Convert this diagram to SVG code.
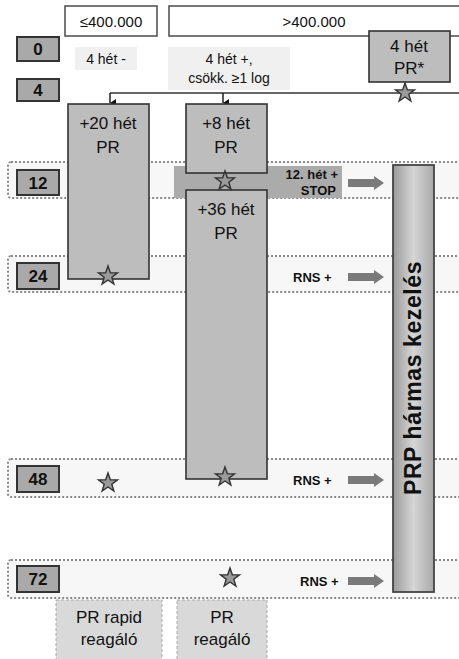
<svg xmlns="http://www.w3.org/2000/svg" width="459" height="659" viewBox="0 0 459 659">
<defs>
<style>
text{font-family:"Liberation Sans",Arial,sans-serif;fill:#111}
.band{fill:#f7f7f7;stroke:#8a8a8a;stroke-width:2;stroke-dasharray:2 2}
.num{fill:#a9a9a9;stroke:#333;stroke-width:2}
.numt{font-size:17px;font-weight:bold;text-anchor:middle}
.node{fill:#bdbdbd;stroke:#333;stroke-width:1.6}
.nt{font-size:17px;text-anchor:middle}
.top{fill:#fff;stroke:#555;stroke-width:1.6}
.lbl{fill:#f0f0f0}
.lt{font-size:14px;text-anchor:middle}
.rns{font-size:13px;font-weight:bold}
.star{fill:#9a9a9a;stroke:#333;stroke-width:1.4}
.arr{fill:#7a7a7a}
.bot{fill:#d9d9d9;stroke:#aaa;stroke-width:1;stroke-dasharray:3 2}
</style>
<linearGradient id="g" x1="0" y1="0" x2="1" y2="0">
<stop offset="0" stop-color="#9a9a9a"/>
<stop offset="0.5" stop-color="#d6d6d6"/>
<stop offset="1" stop-color="#a8a8a8"/>
</linearGradient>
<path id="star" d="M0,-10 L2.35,-3.24 L9.51,-3.09 L3.8,1.24 L5.88,8.09 L0,4 L-5.88,8.09 L-3.8,1.24 L-9.51,-3.09 L-2.35,-3.24 Z"/>
<path id="tarr" d="M0,-4 L26,-4 L26,-7 L36,0 L26,7 L26,4 L0,4 Z"/>
<marker id="ah" markerWidth="8" markerHeight="8" refX="4" refY="7" orient="auto" markerUnits="userSpaceOnUse">
<path d="M0,1 L8,1 L4,7 Z" fill="#111"/>
</marker>
</defs>

<g id="bands">
<rect class="band" x="8" y="162" width="460" height="36" rx="3"/>
<rect class="band" x="8" y="256" width="460" height="36" rx="3"/>
<rect class="band" x="8" y="459" width="460" height="38" rx="3"/>
<rect class="band" x="8" y="560" width="460" height="38" rx="3"/>
</g>

<g id="stopband">
<rect x="174" y="166" width="168" height="32" fill="#ababab"/>
<text class="rns" x="338" y="179" text-anchor="end">12. hét  +</text>
<text class="rns" x="336" y="195" text-anchor="end">STOP</text>
</g>

<g id="t0"><rect class="num" x="17" y="37" width="42" height="24"/><text class="numt" x="38" y="55">0</text></g>
<g id="t4"><rect class="num" x="17" y="79" width="42" height="22"/><text class="numt" x="38" y="96">4</text></g>
<g id="t12"><rect class="num" x="17" y="170" width="42" height="25"/><text class="numt" x="38" y="189">12</text></g>
<g id="t24"><rect class="num" x="17" y="263" width="42" height="26"/><text class="numt" x="38" y="282">24</text></g>
<g id="t48"><rect class="num" x="17" y="466" width="42" height="26"/><text class="numt" x="38" y="485">48</text></g>
<g id="t72"><rect class="num" x="17" y="566" width="42" height="26"/><text class="numt" x="38" y="585">72</text></g>

<g id="low"><rect class="top" x="65" y="6" width="92" height="30"/><text x="111" y="27" style="font-size:15px;text-anchor:middle">≤400.000</text></g>
<g id="high"><rect class="top" x="169" y="6" width="300" height="30"/><text x="314" y="27" style="font-size:15px;text-anchor:middle">&gt;400.000</text></g>

<g id="lblneg"><rect class="lbl" x="75" y="47" width="62" height="23"/><text class="lt" x="106" y="64">4 hét  -</text></g>
<g id="lblpos"><rect class="lbl" x="168" y="47" width="122" height="43"/><text class="lt" x="229" y="64">4 hét +,</text><text class="lt" x="229" y="83">csökk. ≥1 log</text></g>

<g id="connectors">
<path d="M110,93 L459,93" stroke="#333" stroke-width="1.4" fill="none"/>
<path d="M110,93 L110,103" stroke="#111" stroke-width="1.4" marker-end="url(#ah)"/>
<path d="M223,93 L223,103" stroke="#111" stroke-width="1.4" marker-end="url(#ah)"/>
</g>

<g id="pr4"><rect class="node" x="369" y="31" width="81" height="51"/><text class="nt" x="409" y="52">4 hét</text><text class="nt" x="409" y="74">PR*</text><use href="#star" class="star" x="405" y="93"/></g>

<g id="pr20"><rect class="node" x="68" y="104" width="81" height="175"/><text class="nt" x="108" y="129">+20 hét</text><text class="nt" x="108" y="153">PR</text><use href="#star" class="star" x="108" y="276"/></g>

<g id="pr8"><rect class="node" x="186" y="104" width="81" height="69"/><text class="nt" x="226" y="129">+8 hét</text><text class="nt" x="226" y="153">PR</text></g>

<g id="pr36"><rect class="node" x="186" y="190" width="81" height="289"/><text class="nt" x="226" y="215">+36 hét</text><text class="nt" x="226" y="239">PR</text><use href="#star" class="star" x="225" y="477"/></g>
<use href="#star" class="star" x="225" y="181"/>

<g id="stars48"><use href="#star" class="star" x="108" y="483"/></g>
<g id="star72"><use href="#star" class="star" x="230" y="578"/></g>

<g id="rns">
<use href="#tarr" class="arr" x="348" y="183"/>
<text class="rns" x="293" y="282">RNS +</text><use href="#tarr" class="arr" x="348" y="277"/>
<text class="rns" x="293" y="485">RNS +</text><use href="#tarr" class="arr" x="348" y="480"/>
<text class="rns" x="300" y="586">RNS +</text><use href="#tarr" class="arr" x="348" y="581"/>
</g>

<g id="prp"><rect x="393" y="165" width="41" height="427" fill="url(#g)" stroke="#444" stroke-width="1.8"/><text transform="translate(421,378) rotate(-90)" style="font-size:23px;font-weight:bold;text-anchor:middle;letter-spacing:0.6px">PRP hármas kezelés</text></g>

<g id="rapid"><rect class="bot" x="56" y="600" width="106" height="62"/><text class="nt" x="109" y="623">PR rapid</text><text class="nt" x="109" y="645">reagáló</text></g>
<g id="resp"><rect class="bot" x="177" y="600" width="90" height="62"/><text class="nt" x="222" y="623">PR</text><text class="nt" x="222" y="645">reagáló</text></g>
</svg>
